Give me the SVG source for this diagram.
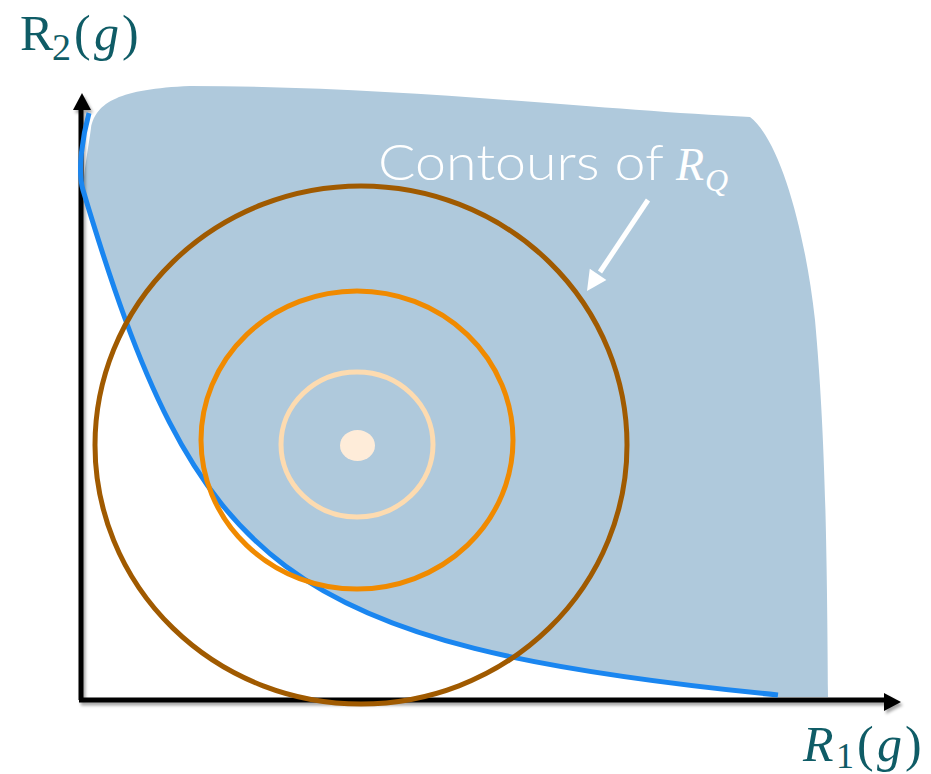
<svg xmlns="http://www.w3.org/2000/svg" width="931" height="774" viewBox="0 0 931 774">
  <style>
    .ring { fill: none; stroke-width: 5; }
    .axis { stroke: #000; stroke-width: 5; fill: none; }
    .lbl { font-family: "Liberation Serif", "DejaVu Serif", serif; fill: #0f5c66; }
    .cap { font-family: Lato, "Open Sans", "Liberation Sans", sans-serif; font-weight: 300; fill: #fff; }
    .math { font-family: "Liberation Serif", "DejaVu Serif", serif; font-style: italic; fill: #fff; }
  </style>
  <defs>
    <filter id="shadow" x="-10%" y="-10%" width="120%" height="120%">
      <feDropShadow dx="2" dy="3" stdDeviation="1.5" flood-color="#000" flood-opacity="0.35"/>
    </filter>
  </defs>
  <rect width="931" height="774" fill="#fff"/>

  <g id="feasible-region">
    <path fill="#afc9dc" d="M83,190 C197,570 278,645 778,695 L778,697 L828,697 C827,520 824,420 815,320 C805,230 780,140 750,117 C600,110 400,86 190,86 C120,89 96,102 91,128 C88,150 84,170 83,190 Z"/>
  </g>

  <g id="axes" filter="url(#shadow)">
    <line class="axis" x1="81" y1="700" x2="81" y2="106"/>
    <polygon points="82,93 91,110 73,110" fill="#000"/>
    <line class="axis" x1="79" y1="700" x2="887" y2="700"/>
    <polygon points="901,702 884,693 884,711" fill="#000"/>
  </g>

  <g id="pareto-front">
    <path fill="none" stroke="#1a86f0" stroke-width="5" d="M89,113 C83,135 77,170 83,190 C197,570 278,645 778,695"/>
  </g>

  <g id="contours">
    <ellipse class="ring" cx="361" cy="445" rx="266" ry="259" stroke="#a05a00"/>
    <ellipse class="ring" cx="357" cy="440" rx="156" ry="149" stroke="#f08a00"/>
    <ellipse class="ring" cx="357" cy="444.5" rx="76" ry="72.5" stroke="#fddbb0" stroke-width="4.5"/>
    <ellipse cx="357.5" cy="445.5" rx="17.5" ry="15.5" fill="#feecd9"/>
  </g>

  <g id="contour-label">
    <text class="cap" x="378" y="180" font-size="50" textLength="286" lengthAdjust="spacingAndGlyphs">Contours of</text>
    <text class="math" x="676" y="180" font-size="46">R</text>
    <text class="math" x="705" y="191" font-size="32">Q</text>
  </g>

  <g id="connectors">
    <line x1="648" y1="200" x2="600" y2="272" stroke="#fff" stroke-width="5"/>
    <polygon points="587,291 589.8,268.8 606.4,280" fill="#fff"/>
  </g>

  <g id="y-label" class="lbl">
    <text y="50" font-size="50"><tspan x="20">R</tspan><tspan x="52" y="60" font-size="38">2</tspan><tspan x="74" y="50">(</tspan><tspan x="94" font-style="italic">g</tspan><tspan x="122">)</tspan></text>
  </g>

  <g id="x-label" class="lbl">
    <text y="761" font-size="50"><tspan x="803" font-style="italic">R</tspan><tspan x="836" y="768" font-size="36">1</tspan><tspan x="857" y="761">(</tspan><tspan x="877" font-style="italic">g</tspan><tspan x="905">)</tspan></text>
  </g>
</svg>
